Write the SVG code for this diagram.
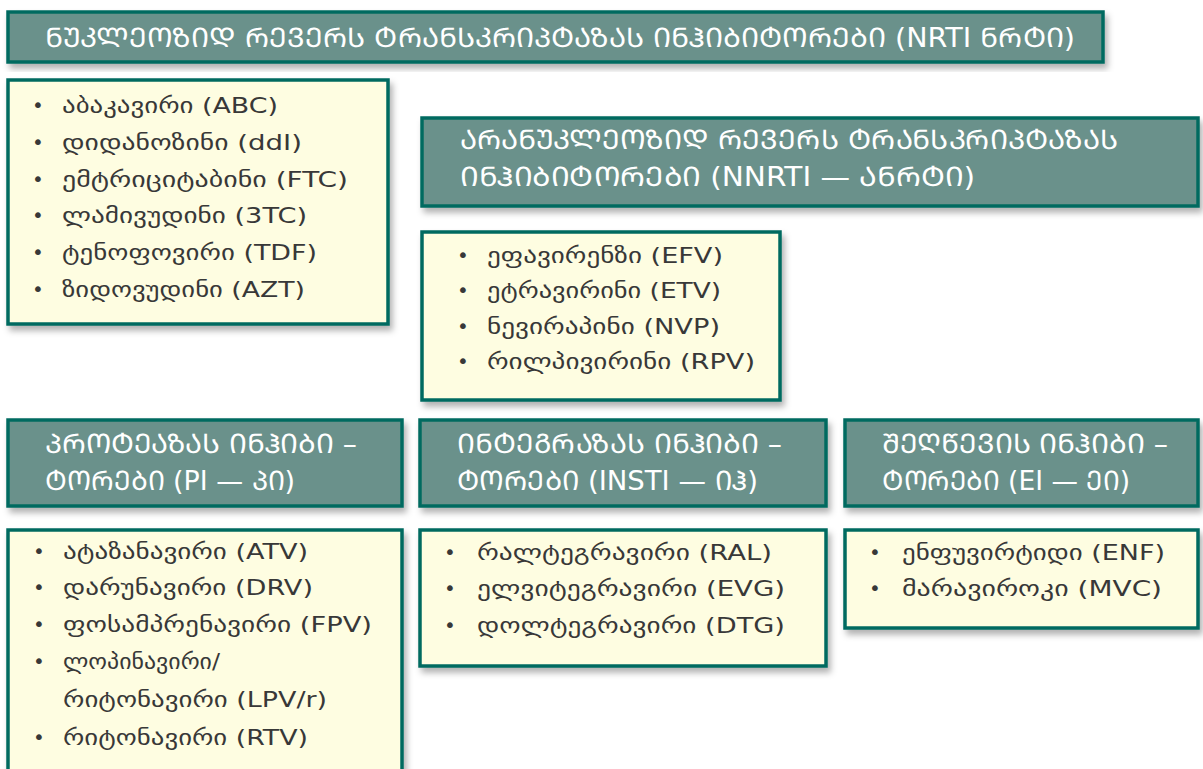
<svg xmlns="http://www.w3.org/2000/svg" width="1203" height="769" viewBox="0 0 1203 769">
<defs>
<filter id="sh" x="-5%" y="-10%" width="115%" height="130%">
<feDropShadow dx="3" dy="5" stdDeviation="3" flood-color="#000" flood-opacity="0.3"/>
</filter>
<style>
.hd{fill:#6b918b;stroke:#006b60;stroke-width:3.5;filter:url(#sh)}
.ls{fill:#fefde1;stroke:#006b60;stroke-width:3.5;filter:url(#sh)}
.ht{font-family:"DejaVu Sans","Noto Sans",sans-serif;font-size:27px;fill:#ffffff}
.lt{font-family:"DejaVu Sans","Noto Sans",sans-serif;font-size:22px;fill:#383838}
.bu{font-family:"DejaVu Sans",sans-serif;font-size:20px;fill:#383838}
</style>
</defs>
<rect width="1203" height="769" fill="#ffffff"/>
<g id="connectors"/>

<g id="title">
<rect class="hd" x="8" y="12" width="1095" height="50"/>
<text class="ht" x="45" y="47" textLength="1030" lengthAdjust="spacingAndGlyphs" font-size="28">&#x1C9C;&#x1CA3;&#x1C99;&#x1C9A;&#x1C94;&#x1C9D;&#x1C96;&#x1C98;&#x1C93; &#x1CA0;&#x1C94;&#x1C95;&#x1C94;&#x1CA0;&#x1CA1; &#x1CA2;&#x1CA0;&#x1C90;&#x1C9C;&#x1CA1;&#x1C99;&#x1CA0;&#x1C98;&#x1C9E;&#x1CA2;&#x1C90;&#x1C96;&#x1C90;&#x1CA1; &#x1C98;&#x1C9C;&#x1CB0;&#x1C98;&#x1C91;&#x1C98;&#x1CA2;&#x1C9D;&#x1CA0;&#x1C94;&#x1C91;&#x1C98; (NRTI &#x1C9C;&#x1CA0;&#x1CA2;&#x1C98;)</text>
</g>

<g id="nrti-list">
<rect class="ls" x="8" y="80" width="380" height="244"/>
<text class="bu" x="32" y="112">•</text><text class="lt" x="62" y="113" textLength="216" lengthAdjust="spacingAndGlyphs">აბაკავირი (ABC)</text>
<text class="bu" x="32" y="149">•</text><text class="lt" x="62" y="150" textLength="240" lengthAdjust="spacingAndGlyphs">დიდანოზინი (ddI)</text>
<text class="bu" x="32" y="186">•</text><text class="lt" x="62" y="187" textLength="286" lengthAdjust="spacingAndGlyphs">ემტრიციტაბინი (FTC)</text>
<text class="bu" x="32" y="222">•</text><text class="lt" x="62" y="223" textLength="245" lengthAdjust="spacingAndGlyphs">ლამივუდინი (3TC)</text>
<text class="bu" x="32" y="259">•</text><text class="lt" x="62" y="260" textLength="255" lengthAdjust="spacingAndGlyphs">ტენოფოვირი (TDF)</text>
<text class="bu" x="32" y="296">•</text><text class="lt" x="62" y="297" textLength="243" lengthAdjust="spacingAndGlyphs">ზიდოვუდინი (AZT)</text>
</g>

<g id="nnrti-header">
<rect class="hd" x="422" y="118" width="776" height="88"/>
<text class="ht" x="460" y="149" textLength="658" lengthAdjust="spacingAndGlyphs">&#x1C90;&#x1CA0;&#x1C90;&#x1C9C;&#x1CA3;&#x1C99;&#x1C9A;&#x1C94;&#x1C9D;&#x1C96;&#x1C98;&#x1C93; &#x1CA0;&#x1C94;&#x1C95;&#x1C94;&#x1CA0;&#x1CA1; &#x1CA2;&#x1CA0;&#x1C90;&#x1C9C;&#x1CA1;&#x1C99;&#x1CA0;&#x1C98;&#x1C9E;&#x1CA2;&#x1C90;&#x1C96;&#x1C90;&#x1CA1;</text>
<text class="ht" x="460" y="186" textLength="515" lengthAdjust="spacingAndGlyphs">&#x1C98;&#x1C9C;&#x1CB0;&#x1C98;&#x1C91;&#x1C98;&#x1CA2;&#x1C9D;&#x1CA0;&#x1C94;&#x1C91;&#x1C98; (NNRTI — &#x1C90;&#x1C9C;&#x1CA0;&#x1CA2;&#x1C98;)</text>
</g>

<g id="nnrti-list">
<rect class="ls" x="422" y="232" width="358" height="168"/>
<text class="bu" x="457" y="262">•</text><text class="lt" x="487" y="263" textLength="236" lengthAdjust="spacingAndGlyphs">ეფავირენზი (EFV)</text>
<text class="bu" x="457" y="297">•</text><text class="lt" x="487" y="298" textLength="234" lengthAdjust="spacingAndGlyphs">ეტრავირინი (ETV)</text>
<text class="bu" x="457" y="333">•</text><text class="lt" x="487" y="334" textLength="233" lengthAdjust="spacingAndGlyphs">ნევირაპინი (NVP)</text>
<text class="bu" x="457" y="368">•</text><text class="lt" x="487" y="369" textLength="268" lengthAdjust="spacingAndGlyphs">რილპივირინი (RPV)</text>
</g>

<g id="pi-header">
<rect class="hd" x="8" y="420" width="394" height="86"/>
<text class="ht" x="45" y="453" textLength="312" lengthAdjust="spacingAndGlyphs">&#x1C9E;&#x1CA0;&#x1C9D;&#x1CA2;&#x1C94;&#x1C90;&#x1C96;&#x1C90;&#x1CA1; &#x1C98;&#x1C9C;&#x1CB0;&#x1C98;&#x1C91;&#x1C98; –</text>
<text class="ht" x="45" y="490" textLength="250" lengthAdjust="spacingAndGlyphs">&#x1CA2;&#x1C9D;&#x1CA0;&#x1C94;&#x1C91;&#x1C98; (PI — &#x1C9E;&#x1C98;)</text>
</g>

<g id="pi-list">
<rect class="ls" x="8" y="530" width="394" height="250"/>
<text class="bu" x="33" y="558">•</text><text class="lt" x="63" y="559" textLength="245" lengthAdjust="spacingAndGlyphs">ატაზანავირი (ATV)</text>
<text class="bu" x="33" y="594">•</text><text class="lt" x="63" y="595" textLength="250" lengthAdjust="spacingAndGlyphs">დარუნავირი (DRV)</text>
<text class="bu" x="33" y="631">•</text><text class="lt" x="63" y="632" textLength="309" lengthAdjust="spacingAndGlyphs">ფოსამპრენავირი (FPV)</text>
<text class="bu" x="33" y="668">•</text><text class="lt" x="63" y="669" textLength="157" lengthAdjust="spacingAndGlyphs">ლოპინავირი/</text>
<text class="lt" x="63" y="707" textLength="264" lengthAdjust="spacingAndGlyphs">რიტონავირი (LPV/r)</text>
<text class="bu" x="33" y="744">•</text><text class="lt" x="63" y="745" textLength="245" lengthAdjust="spacingAndGlyphs">რიტონავირი (RTV)</text>
</g>

<g id="insti-header">
<rect class="hd" x="420" y="420" width="406" height="86"/>
<text class="ht" x="457" y="453" textLength="325" lengthAdjust="spacingAndGlyphs">&#x1C98;&#x1C9C;&#x1CA2;&#x1C94;&#x1C92;&#x1CA0;&#x1C90;&#x1C96;&#x1C90;&#x1CA1; &#x1C98;&#x1C9C;&#x1CB0;&#x1C98;&#x1C91;&#x1C98; –</text>
<text class="ht" x="457" y="490" textLength="301" lengthAdjust="spacingAndGlyphs">&#x1CA2;&#x1C9D;&#x1CA0;&#x1C94;&#x1C91;&#x1C98; (INSTI — &#x1C98;&#x1CB0;)</text>
</g>

<g id="insti-list">
<rect class="ls" x="420" y="530" width="406" height="136"/>
<text class="bu" x="444" y="559">•</text><text class="lt" x="477" y="560" textLength="295" lengthAdjust="spacingAndGlyphs">რალტეგრავირი (RAL)</text>
<text class="bu" x="444" y="595">•</text><text class="lt" x="477" y="596" textLength="308" lengthAdjust="spacingAndGlyphs">ელვიტეგრავირი (EVG)</text>
<text class="bu" x="444" y="632">•</text><text class="lt" x="477" y="633" textLength="308" lengthAdjust="spacingAndGlyphs">დოლტეგრავირი (DTG)</text>
</g>

<g id="ei-header">
<rect class="hd" x="845" y="420" width="353" height="86"/>
<text class="ht" x="882" y="453" textLength="286" lengthAdjust="spacingAndGlyphs">&#x1CA8;&#x1C94;&#x1CA6;&#x1CAC;&#x1C94;&#x1C95;&#x1C98;&#x1CA1; &#x1C98;&#x1C9C;&#x1CB0;&#x1C98;&#x1C91;&#x1C98; –</text>
<text class="ht" x="882" y="490" textLength="248" lengthAdjust="spacingAndGlyphs">&#x1CA2;&#x1C9D;&#x1CA0;&#x1C94;&#x1C91;&#x1C98; (EI — &#x1C94;&#x1C98;)</text>
</g>

<g id="ei-list">
<rect class="ls" x="845" y="530" width="353" height="98"/>
<text class="bu" x="869" y="559">•</text><text class="lt" x="902" y="560" textLength="263" lengthAdjust="spacingAndGlyphs">ენფუვირტიდი (ENF)</text>
<text class="bu" x="869" y="595">•</text><text class="lt" x="902" y="596" textLength="260" lengthAdjust="spacingAndGlyphs">მარავიროკი (MVC)</text>
</g>
</svg>
